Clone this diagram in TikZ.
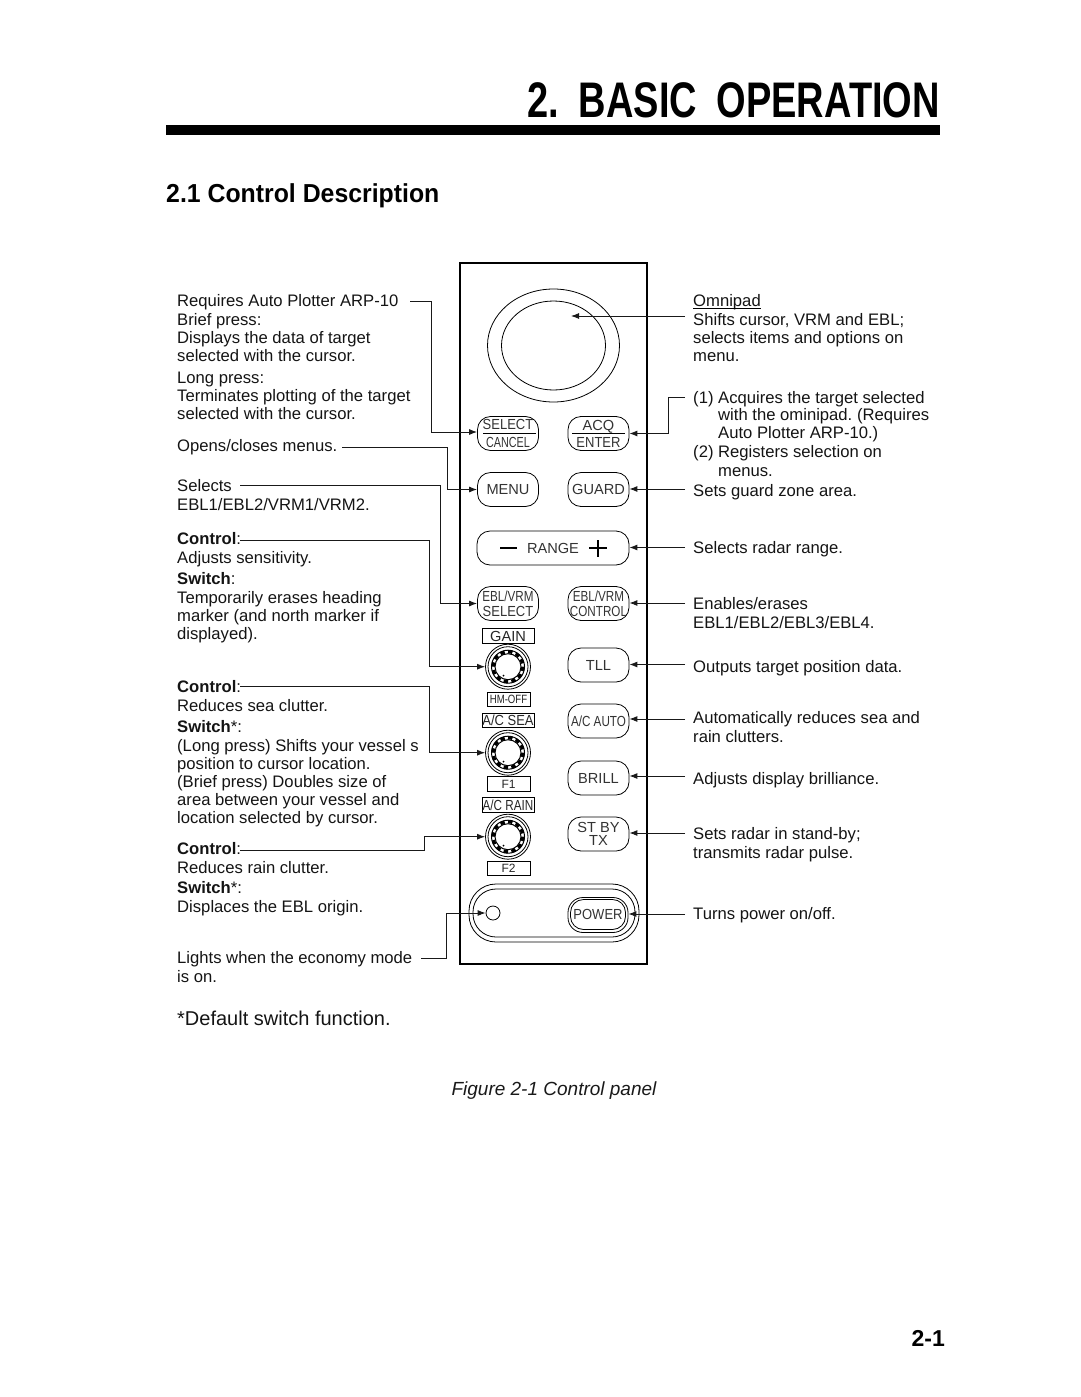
\documentclass[tikz,border=0pt]{standalone}
\usepackage{fontspec}
\setmainfont{Liberation Sans}
\newfontfamily\narrowa[FakeStretch=0.89]{Liberation Sans}
\newfontfamily\narrowb[FakeStretch=0.8]{Liberation Sans}
\newfontfamily\narrowc[FakeStretch=0.74]{Liberation Sans}
\newfontfamily\headfont[FakeStretch=0.76]{Liberation Sans}
\newfontfamily\subheadfont[FakeStretch=0.955]{Liberation Sans}
\usetikzlibrary{arrows.meta,shapes.geometric}
\frenchspacing
\tikzset{
  txt/.style={anchor=north west,inner sep=0pt,align=left,text=black!92,yshift=-0.4pt,font=\fontsize{16.65}{18.2}\selectfont,execute at begin node=\strut},
  conn/.style={line width=0.9pt,black!90,-{Latex[length=8pt,width=6pt]}},
  key/.style={draw,line width=0.8pt,rounded corners=13pt,inner sep=0pt,minimum width=61pt,minimum height=34pt,yshift=-1pt,
    align=center,text=black!80,font=\fontsize{14.6}{14.2}\selectfont},
  tag/.style={draw,line width=0.9pt,inner sep=0pt,minimum width=52pt,minimum height=14.5pt,text=black!85,font=\fontsize{14.6}{15}\selectfont},
  smalltag/.style={draw,line width=0.8pt,inner sep=0pt,minimum width=43pt,minimum height=14.5pt,text=black!85,font=\fontsize{12}{13}\selectfont},
  knob/.style={draw,circle,line width=0.8pt,inner sep=0pt,minimum size=45pt}
}
\begin{document}
\begin{tikzpicture}[x=1pt,y=-1pt]
\useasboundingbox (0,0) rectangle (1080,1397);

\node[anchor=base east,inner sep=0pt,font=\headfont\bfseries\fontsize{50}{50}\selectfont] (title) at (940,117.5) {2. \hspace{9pt}BASIC \hspace{9pt}OPERATION};
\fill (166,125) rectangle (940,135);
\node[anchor=base west,inner sep=0pt,font=\subheadfont\bfseries\fontsize{26}{28}\selectfont] (section) at (166,202) {2.1 Control Description};

\draw[line width=2pt] (460,263) rectangle (647,964);

\node[draw,ellipse,line width=0.8pt,inner sep=0pt,minimum width=132pt,minimum height=113pt] (ring) at (553.5,345.5) {};
\node[draw,ellipse,line width=0.8pt,inner sep=0pt,minimum width=104pt,minimum height=89pt] (omnipad) at (553.5,345.5) {};

\node[key] (selectkey) at (508,432.5) {\narrowa SELECT\\[3pt]\narrowc CANCEL};
\node[key] (acqkey) at (598.5,432.5) {ACQ\\[3pt]\narrowa ENTER};
\draw[line width=0.8pt] (483,433) -- (536,433);
\draw[line width=0.8pt] (572,433) -- (625,433);

\node[key] (menukey) at (508,488.5) {MENU};
\node[key] (guardkey) at (598.5,488.5) {GUARD};

\node[key,minimum width=152pt] (rangekey) at (553,547) {RANGE};
\draw[line width=2pt] (500,547.5) -- (517,547.5);
\draw[line width=2pt] (589,548) -- (607,548);
\draw[line width=2pt] (598,540) -- (598,557);

\node[key] (ebllkey) at (508,602.5) {\narrowb EBL/VRM\\[0.5pt]\narrowa SELECT};
\node[key] (eblrkey) at (598.5,602.5) {\narrowb EBL/VRM\\[0.5pt]\narrowb CONTROL};

\node[tag] (gain) at (508,636) {GAIN};
\node[knob] (gainknob) at (508,666.7) {};
\node[smalltag] (hmoff) at (508.5,699.5) {\narrowb HM-OFF};
\node[key] (tllkey) at (598.5,664) {TLL};

\node[tag] (acsea) at (508,720.5) {\narrowa A/C SEA};
\node[knob] (seaknob) at (508,752.7) {};
\node[smalltag] (fone) at (508.5,784) {F1};
\node[key] (autokey) at (598.5,720) {\narrowb A/C AUTO};
\node[key] (brillkey) at (598.5,777) {BRILL};

\node[tag] (acrain) at (508,805) {\narrowb A/C RAIN};
\node[knob] (rainknob) at (508,836.7) {};
\node[smalltag] (ftwo) at (508.5,868.5) {F2};
\node[key] (stbykey) at (598.5,833) {ST BY\\[-0.5pt]TX};

\foreach \k in {gainknob,seaknob,rainknob} {
  \draw[line width=0.8pt] (\k) circle (20);
  \draw[line width=1pt] (\k) circle (13);
  \draw[line width=1pt] (\k) circle (16.5);
  \draw[line width=3.4pt,dash pattern=on 4.4pt off 3.45pt] (\k) circle (15);
  \fill ([xshift=-4.5pt,yshift=-9pt]\k.center) circle (1);
}

\node[draw,line width=0.8pt,rounded corners=27pt,inner sep=0pt,minimum width=170pt,minimum height=58pt] (powerouter) at (554,913) {};
\node[draw,line width=0.8pt,rounded corners=23pt,inner sep=0pt,minimum width=162pt,minimum height=48pt] (powerinner) at (554,913) {};
\node[draw,circle,line width=0.8pt,inner sep=0pt,minimum size=14pt] (lamp) at (493,913) {};
\node[key,minimum width=60pt,minimum height=35pt,rounded corners=15pt] (powerkey) at (598,914) {};
\node[key,minimum width=55pt,minimum height=30pt,rounded corners=13pt] (powerlabel) at (598,913.5) {\narrowa POWER};

\node[txt] (arp) at (177,294.3) {Requires Auto Plotter ARP-10\\Brief press:\\Displays the data of target\\selected with the cursor.};
\node[txt] (longpress) at (177,371.3) {Long press:\\Terminates plotting of the target\\selected with the cursor.};
\node[txt] (menus) at (177,438.3) {Opens/closes menus.};
\node[txt] (selects) at (177,479.3) {Selects\\EBL1/EBL2/VRM1/VRM2.};
\node[txt] (gainctl) at (177,532.3) {\textbf{Control}:\\Adjusts sensitivity.};
\node[txt] (gainsw) at (177,572.3) {\textbf{Switch}:\\Temporarily erases heading\\marker (and north marker if\\displayed).};
\node[txt] (seactl) at (177,680.3) {\textbf{Control}:\\Reduces sea clutter.};
\node[txt] (seasw) at (177,720.3) {\textbf{Switch}*:\\(Long press) Shifts your vessel s\\position to cursor location.\\(Brief press) Doubles size of\\area between your vessel and\\location selected by cursor.};
\node[txt] (rainctl) at (177,842.3) {\textbf{Control}:\\Reduces rain clutter.};
\node[txt] (rainsw) at (177,881.3) {\textbf{Switch}*:\\Displaces the EBL origin.};
\node[txt] (economy) at (177,951.3) {Lights when the economy mode\\is on.};
\node[txt,font=\fontsize{20}{22}\selectfont] (note) at (177,1009.4) {*Default switch function.};
\node[anchor=base,inner sep=0pt,text=black!90,font=\itshape\fontsize{19}{21}\selectfont] (caption) at (554,1095) {Figure 2-1 Control panel};

\node[txt] (omnitext) at (693,294.3) {Omnipad\\Shifts cursor, VRM and EBL;\\selects items and options on\\menu.};
\draw[line width=0.8pt] (693,308.3) -- (761,308.3);
\node[txt] (acqone) at (693,390) {(1) Acquires the target selected};
\node[txt] (acqonemore) at (718,408) {with the ominipad. (Requires\\Auto Plotter ARP-10.)};
\node[txt] (acqtwo) at (693,444) {(2) Registers selection on};
\node[txt] (acqtwomore) at (718,463) {menus.};
\node[txt] (guardtext) at (693,483) {Sets guard zone area.};
\node[txt] (rangetext) at (693,540) {Selects radar range.};
\node[txt] (ebltext) at (693,597.3) {Enables/erases\\EBL1/EBL2/EBL3/EBL4.};
\node[txt] (tlltext) at (693,659) {Outputs target position data.};
\node[txt] (autotext) at (693,711.3) {Automatically reduces sea and\\rain clutters.};
\node[txt] (brilltext) at (693,771) {Adjusts display brilliance.};
\node[txt] (stbytext) at (693,827.3) {Sets radar in stand-by;\\transmits radar pulse.};
\node[txt] (powertext) at (693,906) {Turns power on/off.};

\node[anchor=base east,inner sep=0pt,font=\bfseries\fontsize{23}{25}\selectfont] (pageno) at (945,1346) {2-1};

\coordinate (arpend) at (410,301);
\coordinate (menuend) at (342,447);
\coordinate (selend) at (240,485);
\coordinate (gainend) at (240,540);
\coordinate (seaend) at (240,686.5);
\coordinate (rainend) at (240,850);
\coordinate (lampend) at (421,958);
\coordinate (omniend) at (685,316);
\coordinate (acqend) at (685,397);
\coordinate (guardend) at (685,489);
\coordinate (rangeend) at (685,547.5);
\coordinate (eblend) at (685,603);
\coordinate (tllend) at (685,664.5);
\coordinate (autoend) at (685,719);
\coordinate (brillend) at (685,776);
\coordinate (stbyend) at (685,833);
\coordinate (powerend) at (685,914);

\draw[conn] (arpend) -- (431,301) |- ([yshift=1.5pt]selectkey.west);
\draw[conn] (menuend) -- (447,447) |- (menukey.west);
\draw[conn] (selend) -- (440,485) |- (ebllkey.west);
\draw[conn] (gainend) -- (429,540) |- (gainknob.west);
\draw[conn] (seaend) -- (429,686.5) |- (seaknob.west);
\draw[conn] (rainend) -- (424,850) |- (rainknob.west);
\draw[conn] (lampend) -- (446,958) |- (lamp.west);

\draw[conn] (omniend) -- (571,316);
\draw[conn] (acqend) -- (668,397) |- (acqkey.east);
\draw[conn] (guardend) -- (guardend -| guardkey.east);
\draw[conn] (rangeend) -- (rangeend -| rangekey.east);
\draw[conn] (eblend) -- (eblend -| eblrkey.east);
\draw[conn] (tllend) -- (tllend -| tllkey.east);
\draw[conn] (autoend) -- (autoend -| autokey.east);
\draw[conn] (brillend) -- (brillend -| brillkey.east);
\draw[conn] (stbyend) -- (stbyend -| stbykey.east);
\draw[conn] (powerend) -- (powerend -| powerkey.east);
\end{tikzpicture}
\end{document}
